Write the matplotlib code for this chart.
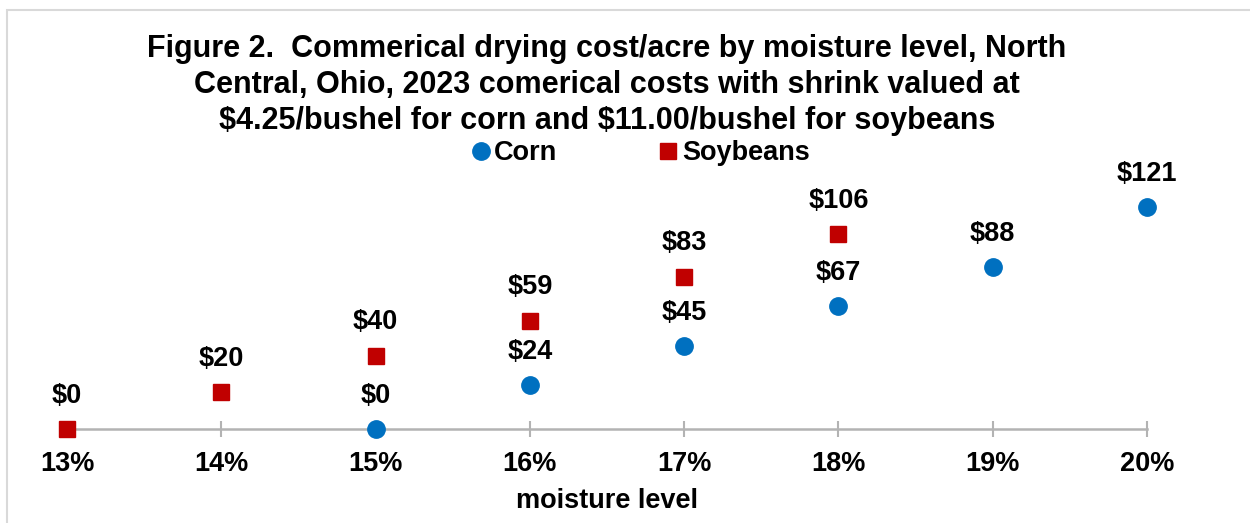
import numpy as np
import matplotlib.pyplot as plt
from matplotlib.patches import Rectangle

plt.rcParams["font.family"] = ["Liberation Sans", "DejaVu Sans"]
plt.rcParams["font.weight"] = "bold"
plt.rcParams["text.parse_math"] = False

moisture = ["13%", "14%", "15%", "16%", "17%", "18%", "19%", "20%"]
corn = [np.nan, np.nan, 0, 24, 45, 67, 88, 121]
soybeans = [0, 20, 40, 59, 83, 106, np.nan, np.nan]

blue = "#0070C0"
red = "#C00000"
axis_grey = "#B3B3B3"

W, H = 1250, 523
fig = plt.figure(figsize=(W / 100, H / 100), dpi=100)

# frame around the chart area (only top and left edges show)
fig.patches.append(Rectangle((7 / W, -1), 2.0, 2 - 10 / H, transform=fig.transFigure,
                             fill=False, edgecolor="#D9D9D9", linewidth=1.5))

# axes: x 0..7 -> px 67..1147, y 0..140 -> px 429..172
left, right = 67 / W, 1147 / W
bottom, top = 1 - 429 / H, 1 - 172 / H
ax = fig.add_axes([left, bottom, right - left, top - bottom])
ax.set_xlim(0, len(moisture) - 1)
ax.set_ylim(0, 140)

x = np.arange(len(moisture))
ax.plot(x, corn, ls="none", marker="o", ms=12.5, mfc=blue, mec=blue,
        label="Corn", clip_on=False, zorder=5)
ax.plot(x, soybeans, ls="none", marker="s", ms=11, mfc=red, mec=red,
        label="Soybeans", clip_on=False, zorder=5)

for series in (corn, soybeans):
    for xi, v in zip(x, series):
        if not np.isnan(v):
            ax.annotate(f"${v:.0f}", (xi, v), xytext=(0, 24), textcoords="offset points",
                        ha="center", va="center", fontsize=19.5, fontweight="bold")

for s in ["top", "right", "left"]:
    ax.spines[s].set_visible(False)
ax.spines["bottom"].set_color(axis_grey)
ax.spines["bottom"].set_linewidth(1.8)
ax.set_yticks([])
ax.set_xticks(x)
ax.set_xticklabels(moisture, fontsize=19.5, fontweight="bold")
ax.tick_params(axis="x", direction="inout", length=12, width=1.5, color=axis_grey, pad=10)
ax.set_xlabel("moisture level", fontsize=19.5, fontweight="bold", labelpad=8)

fig.text((left + right) / 2, 1 - 85 / H,
         "Figure 2.  Commerical drying cost/acre by moisture level, North\n"
         "Central, Ohio, 2023 comerical costs with shrink valued at\n"
         "$4.25/bushel for corn and $11.00/bushel for soybeans",
         ha="center", va="center", fontsize=22, fontweight="bold", linespacing=1.27)

leg = fig.legend(loc="center", bbox_to_anchor=(641 / W, 1 - 153 / H), ncol=2,
                 frameon=False, fontsize=19.5, handlelength=0.6, handletextpad=0.2,
                 columnspacing=3.8, borderaxespad=0)
for t in leg.get_texts():
    t.set_fontweight("bold")

fig.savefig("out.png", dpi=100)
